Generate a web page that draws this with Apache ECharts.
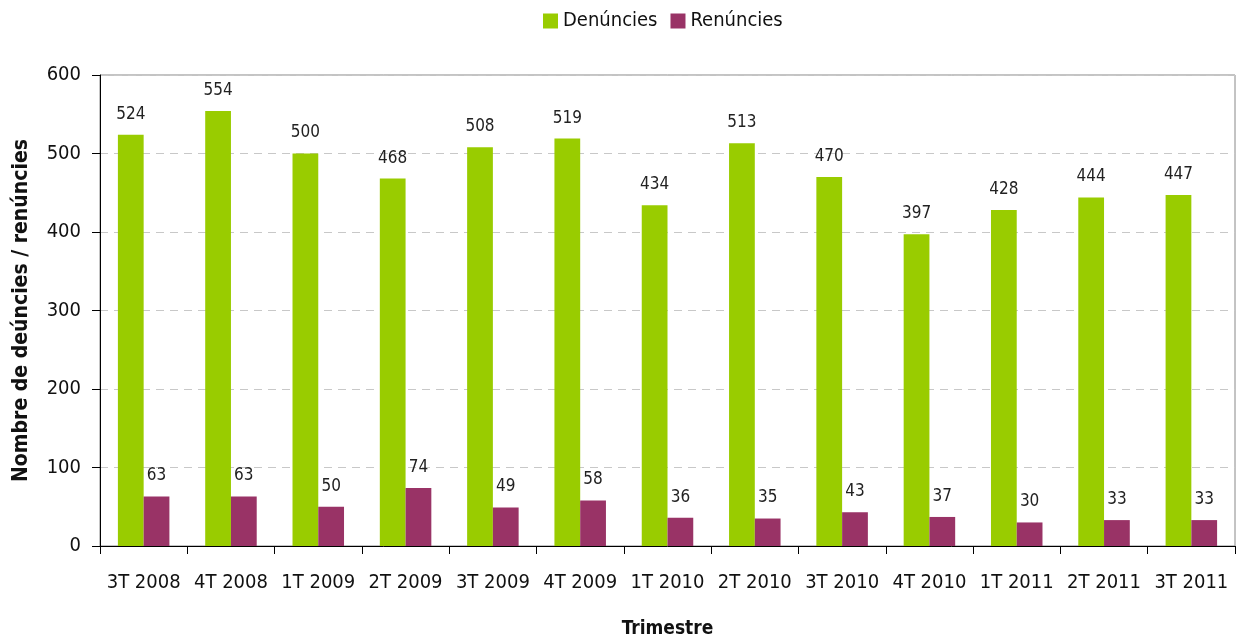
<!DOCTYPE html>
<html>
<head>
<meta charset="utf-8">
<script src="https://cdn.jsdelivr.net/npm/echarts@6/dist/echarts.min.js"></script>
<style>
  html, body { margin: 0; padding: 0; background: #fff; }
  #main { width: 1236px; height: 640px; }
</style>
</head>
<body>
<div id="main"></div>
<script>
const categories = ['3T 2008', '4T 2008', '1T 2009', '2T 2009', '3T 2009', '4T 2009', '1T 2010',
  '2T 2010', '3T 2010', '4T 2010', '1T 2011', '2T 2011', '3T 2011'];
const denuncies = [524, 554, 500, 468, 508, 519, 434, 513, 470, 397, 428, 444, 447];
const renuncies = [63, 63, 50, 74, 49, 58, 36, 35, 43, 37, 30, 33, 33];
const yTicks = [0, 100, 200, 300, 400, 500, 600];

const FONT = '"DejaVu Sans Condensed", "Liberation Sans Narrow", "Liberation Sans", sans-serif';

const chart = echarts.init(document.getElementById('main'));

const labelStyle = {
  show: true,
  position: 'top',
  distance: 12,
  color: '#222',
  fontFamily: FONT,
  fontSize: 17
};

chart.setOption({
  animation: false,
  textStyle: { fontFamily: FONT },
  legend: {
    top: 6,
    left: 538,
    itemWidth: 15,
    itemHeight: 15,
    itemGap: 13,
    icon: 'rect',
    textStyle: { fontFamily: FONT, fontSize: 20, color: '#111' },
    data: ['Denúncies', 'Renúncies']
  },
  grid: {
    left: 100,
    right: 1,
    top: 75,
    bottom: 94,
    outerBoundsMode: 'none',
    show: true,
    borderColor: '#888',
    borderWidth: 1
  },
  xAxis: {
    type: 'category',
    data: categories,
    name: 'Trimestre',
    nameLocation: 'middle',
    nameGap: 74,
    nameTextStyle: { fontFamily: FONT, fontSize: 19, fontWeight: 'bold', color: '#111' },
    axisLine: { lineStyle: { color: '#000', width: 1 } },
    axisTick: { show: true, length: 8, lineStyle: { color: '#000' } },
    axisLabel: { fontFamily: FONT, fontSize: 20, color: '#111', margin: 27, interval: 0 }
  },
  yAxis: {
    type: 'value',
    min: yTicks[0],
    max: yTicks[yTicks.length - 1],
    interval: 100,
    name: 'Nombre de deúncies / renúncies',
    nameLocation: 'middle',
    nameGap: 68,
    nameTextStyle: { fontFamily: FONT, fontSize: 21, fontWeight: 'bold', color: '#111' },
    axisLine: { show: true, lineStyle: { color: '#000', width: 1 } },
    axisTick: { show: true, length: 8, lineStyle: { color: '#000' } },
    axisLabel: { fontFamily: FONT, fontSize: 20, color: '#111', margin: 19 },
    splitLine: { show: true, lineStyle: { color: '#c8c8c8', type: [8, 6] } }
  },
  series: [
    {
      name: 'Denúncies',
      type: 'bar',
      data: denuncies,
      barGap: '0%',
      barCategoryGap: '41%',
      itemStyle: { color: '#99CC00' },
      label: labelStyle
    },
    {
      name: 'Renúncies',
      type: 'bar',
      data: renuncies,
      itemStyle: { color: '#993366' },
      label: labelStyle
    }
  ]
});
</script>
</body>
</html>
